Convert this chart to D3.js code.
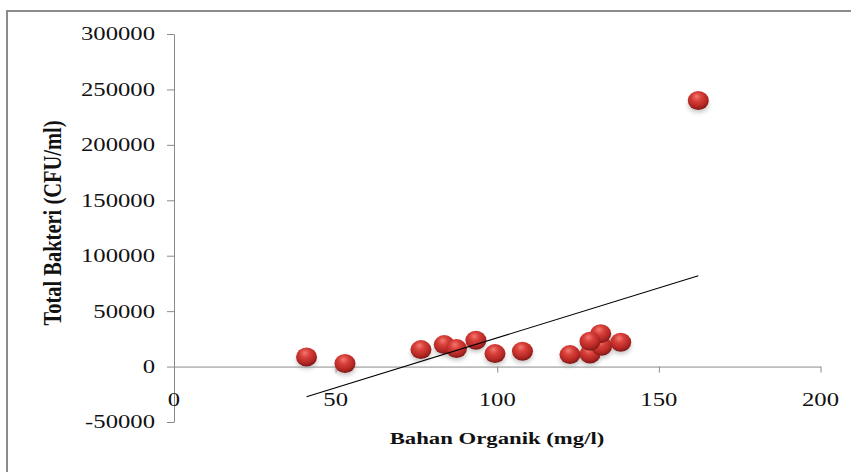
<!DOCTYPE html>
<html>
<head>
<meta charset="utf-8">
<script src="https://cdn.jsdelivr.net/npm/d3@7"></script>
<style>
  body { margin: 0; background: #fff; }
  svg { display: block; }
</style>
</head>
<body>
<svg id="chart" width="851" height="472"></svg>
<script>
// data
var bahanOrganik = [41, 52.9, 76.4, 83.6, 87.4, 93.4, 99.3, 107.8, 122.5, 128.7, 132.3, 132, 128.7, 138.2, 162.2];
var totalBakteri = [8700, 2700, 15300, 19800, 16200, 23700, 11700, 13800, 10800, 11400, 18300, 29700, 22800, 21900, 240000];
var xTicks = [0, 50, 100, 150, 200];
var yTicks = [-50000, 0, 50000, 100000, 150000, 200000, 250000, 300000];
var xTitle = "Bahan Organik (mg/l)";
var yTitle = "Total Bakteri (CFU/ml)";

var svg = d3.select("#chart");
var font = "'Liberation Serif', 'Times New Roman', serif";
var stretch = 1.3; // the original picture is stretched sideways

var x = d3.scaleLinear().domain([0, 200]).range([174, 820.5]);
var y = d3.scaleLinear().domain([-50000, 300000]).range([422, 34]);

// outer frame (only left and top edges show)
svg.append("rect")
    .attr("x", 7).attr("y", 11)
    .attr("width", 900).attr("height", 600)
    .attr("fill", "none")
    .attr("stroke", "#8c8c8c")
    .attr("stroke-width", 2);

// shading for the balls
var defs = svg.append("defs");
var grad = defs.append("radialGradient")
    .attr("id", "ball")
    .attr("cx", "45%").attr("cy", "35%").attr("r", "65%")
    .attr("fx", "42%").attr("fy", "28%");
grad.append("stop").attr("offset", "0%").attr("stop-color", "#f27a72");
grad.append("stop").attr("offset", "35%").attr("stop-color", "#d9403a");
grad.append("stop").attr("offset", "75%").attr("stop-color", "#b42724");
grad.append("stop").attr("offset", "100%").attr("stop-color", "#7d1816");
defs.append("filter").attr("id", "blur")
    .attr("x", "-50%").attr("y", "-50%").attr("width", "200%").attr("height", "200%")
  .append("feGaussianBlur").attr("stdDeviation", 2);

// axes
var yAxis = d3.axisLeft(y).tickValues(yTicks).tickSize(7).tickSizeOuter(0).tickFormat("");
var gy = svg.append("g").attr("transform", "translate(" + x(0) + ",0)").call(yAxis);
var xAxis = d3.axisBottom(x).tickValues(xTicks).tickSize(6).tickSizeOuter(0).tickFormat("");
var gx = svg.append("g").attr("transform", "translate(0," + y(0) + ")").call(xAxis);
svg.selectAll(".domain, .tick line").attr("stroke", "#8a8a8a");

// tick labels
svg.append("g").selectAll("text")
    .data(yTicks)
    .join("text")
    .attr("transform", function(d){ return "translate(" + (x(0) - 19) + "," + y(d) + ") scale(" + stretch + ",1)"; })
    .attr("text-anchor", "end")
    .attr("dominant-baseline", "central")
    .attr("font-family", font)
    .attr("font-size", 19)
    .attr("fill", "#111")
    .text(function(d){ return d; });

svg.append("g").selectAll("text")
    .data(xTicks)
    .join("text")
    .attr("transform", function(d){ return "translate(" + x(d) + "," + (y(0) + 33) + ") scale(" + stretch + ",1)"; })
    .attr("text-anchor", "middle")
    .attr("dominant-baseline", "central")
    .attr("font-family", font)
    .attr("font-size", 19)
    .attr("fill", "#111")
    .text(function(d){ return d; });

// axis titles
svg.append("text")
    .attr("transform", "translate(497,438) scale(" + stretch + ",1)")
    .attr("text-anchor", "middle")
    .attr("dominant-baseline", "central")
    .attr("font-family", font)
    .attr("font-weight", "bold")
    .attr("font-size", 17.5)
    .attr("fill", "#111")
    .text(xTitle);

svg.append("text")
    .attr("transform", "translate(52,223) rotate(-90) scale(1,1.25)")
    .attr("text-anchor", "middle")
    .attr("dominant-baseline", "central")
    .attr("font-family", font)
    .attr("font-weight", "bold")
    .attr("font-size", 20.5)
    .attr("fill", "#111")
    .text(yTitle);

// points
var pts = bahanOrganik.map(function(v, i){ return [v, totalBakteri[i]]; });

svg.append("g").selectAll("ellipse")
    .data(pts)
    .join("ellipse")
    .attr("cx", function(d){ return x(d[0]); })
    .attr("cy", function(d){ return y(d[1]) + 4; })
    .attr("rx", 10.5).attr("ry", 8)
    .attr("fill", "#9a9a9a")
    .attr("opacity", 0.55)
    .attr("filter", "url(#blur)");

svg.append("g").selectAll("ellipse")
    .data(pts)
    .join("ellipse")
    .attr("cx", function(d){ return x(d[0]); })
    .attr("cy", function(d){ return y(d[1]); })
    .attr("rx", 10.5).attr("ry", 9.5)
    .attr("fill", "url(#ball)");

// linear trend line (least squares, as the spreadsheet does)
var mx = d3.mean(bahanOrganik), my = d3.mean(totalBakteri);
var sxy = d3.sum(pts, function(d){ return (d[0] - mx) * (d[1] - my); });
var sxx = d3.sum(bahanOrganik, function(v){ return (v - mx) * (v - mx); });
var slope = sxy / sxx, icpt = my - slope * mx;
var ext = d3.extent(bahanOrganik);

svg.append("line")
    .attr("x1", x(ext[0])).attr("y1", y(icpt + slope * ext[0]))
    .attr("x2", x(ext[1])).attr("y2", y(icpt + slope * ext[1]))
    .attr("stroke", "#000")
    .attr("stroke-width", 1.1);
</script>
</body>
</html>
